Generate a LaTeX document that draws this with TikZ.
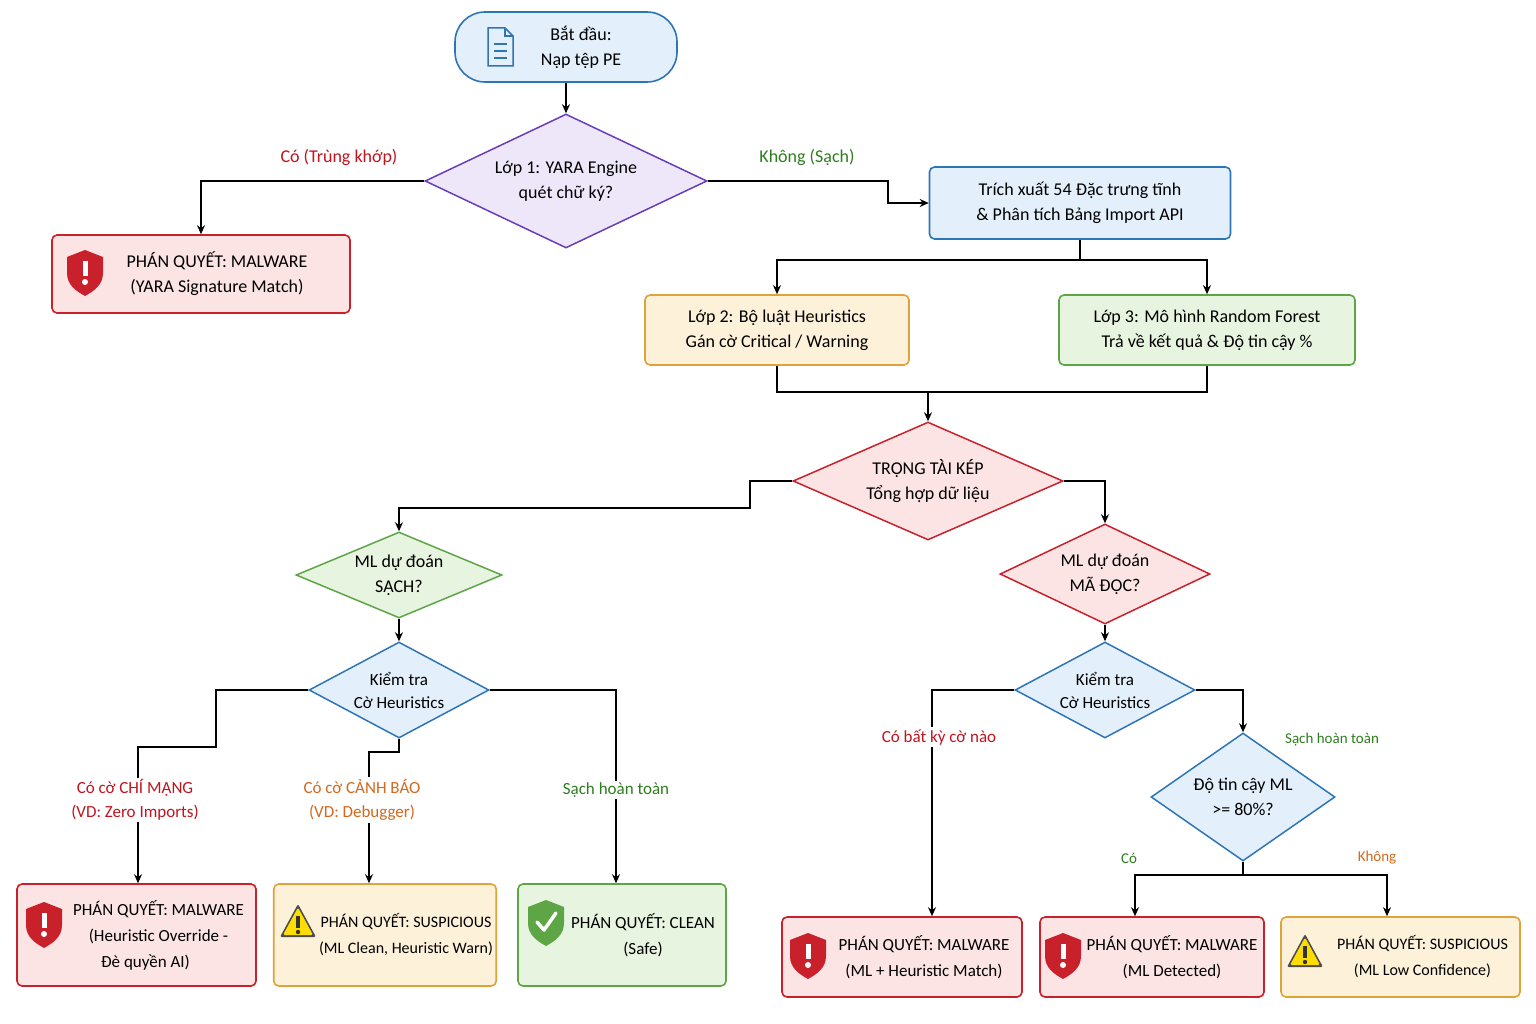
\documentclass[tikz,border=0pt]{standalone}
\usepackage{fontspec}
\setmainfont{Carlito}
\usetikzlibrary{shapes.geometric,arrows.meta}
\definecolor{bF}{HTML}{E3F0FC}\definecolor{bB}{HTML}{2E75B6}
\definecolor{rF}{HTML}{FCE4E4}\definecolor{rB}{HTML}{C9212B}
\definecolor{oF}{HTML}{FDF1DA}\definecolor{oB}{HTML}{E0A33A}
\definecolor{gF}{HTML}{E7F4E0}\definecolor{gB}{HTML}{5DA545}
\definecolor{pF}{HTML}{EEE7FA}\definecolor{pB}{HTML}{6A3DB8}
\definecolor{rT}{HTML}{C0141E}\definecolor{gT}{HTML}{2E7D1E}\definecolor{oT}{HTML}{D2691E}
\begin{document}
\begin{tikzpicture}[x=1pt,y=-1pt,
 box/.style={draw,line width=1.6pt,rounded corners=5pt,align=center,font=\fontsize{18}{25}\selectfont},
 dia/.style={diamond,draw,line width=1.5pt,align=center,inner sep=0pt,font=\fontsize{18}{25}\selectfont},
 sdia/.style={dia,font=\fontsize{17}{23}\selectfont},
 bl/.style={fill=bF,draw=bB},rd/.style={fill=rF,draw=rB},or/.style={fill=oF,draw=oB},gr/.style={fill=gF,draw=gB},
 ar/.style={line width=1.5pt,-{Stealth[length=9pt,width=8pt]}},ln/.style={line width=1.5pt},
 lab/.style={fill=white,align=center,inner sep=2pt,font=\fontsize{17}{24}\selectfont},
 slab/.style={align=center,font=\fontsize{15}{20}\selectfont},
 ft/.style={font=\fontsize{17}{26}\selectfont}]
\useasboundingbox (0,0) rectangle (1536,1024);
\newcommand\shield[3]{\begin{scope}[shift={(#1,#2)},yscale=-1]
 \fill[#3] (0,22) -- (18,15) -- (18,-1) .. controls (18,-13) and (9,-19) .. (0,-24) .. controls (-9,-19) and (-18,-13) .. (-18,-1) -- (-18,15) -- cycle;
 \end{scope}}
\newcommand\excl[2]{\fill[white] (#1-2.5,#2-11) rectangle (#1+2.5,#2+4); \fill[white] (#1,#2+10) circle (3);}
\newcommand\redshield[2]{\shield{#1}{#2}{rB}\excl{#1}{#2}}
\newcommand\warn[2]{\begin{scope}[shift={(#1,#2)}]
 \fill[black!70,rounded corners=2pt] (0,-19) -- (18,14) -- (-18,14) -- cycle;
 \fill[yellow!80!orange,rounded corners=1.5pt] (0,-15.5) -- (15,12) -- (-15,12) -- cycle;
 \fill[black!80] (-2,-7) rectangle (2,5); \fill[black!80] (0,9) circle (2.2);
 \end{scope}}
% nodes
\node[box,bl,rounded corners=30pt,minimum width=222pt,minimum height=70pt] (start) at (566,47) {\hspace*{30pt}Bắt đầu:\\\hspace*{30pt}Nạp tệp PE};
\begin{scope}[shift={(500,47)},bB,line width=1.5pt]
\draw[fill=bF] (-12,-19) -- (5,-19) -- (13,-11) -- (13,19) -- (-12,19) -- cycle;
\draw (5,-19) -- (5,-11) -- (13,-11);
\draw (-6,-3) -- (7,-3) (-6,4) -- (7,4) (-6,11) -- (7,11);
\end{scope}
\node[dia,fill=pF,draw=pB,shape aspect=2.1,minimum width=282pt,minimum height=134pt] (d1) at (566,181) {Lớp 1: YARA Engine\\quét chữ ký?};
\node[box,rd,minimum width=298pt,minimum height=78pt] (m1) at (201,274) {\hspace*{32pt}PHÁN QUYẾT: MALWARE\\\hspace*{32pt}(YARA Signature Match)};
\redshield{85}{272}
\node[box,bl,minimum width=301pt,minimum height=72pt] (ex) at (1080,203) {Trích xuất 54 Đặc trưng tĩnh\\\& Phân tích Bảng Import API};
\node[box,or,minimum width=264pt,minimum height=70pt] (h2) at (777,330) {Lớp 2: Bộ luật Heuristics\\Gán cờ Critical / Warning};
\node[box,gr,minimum width=296pt,minimum height=70pt] (rf) at (1207,330) {Lớp 3: Mô hình Random Forest\\Trả về kết quả \& Độ tin cậy \%};
\node[dia,rd,shape aspect=2.29,minimum width=270pt,minimum height=118pt] (j) at (928,481) {TRỌNG TÀI KÉP\\Tổng hợp dữ liệu};
\node[dia,gr,shape aspect=2.4,minimum width=206pt,minimum height=86pt] (mc) at (399,575) {ML dự đoán\\SẠCH?};
\node[sdia,bl,shape aspect=1.875,minimum width=180pt,minimum height=96pt] (hc1) at (399,690) {Kiểm tra\\Cờ Heuristics};
\node[dia,rd,shape aspect=2.1,minimum width=210pt,minimum height=100pt] (mm) at (1105,574) {ML dự đoán\\MÃ ĐỘC?};
\node[sdia,bl,shape aspect=1.875,minimum width=180pt,minimum height=96pt] (hc2) at (1105,690) {Kiểm tra\\Cờ Heuristics};
\node[dia,bl,shape aspect=1.44,minimum width=184pt,minimum height=128pt] (cf) at (1243,797) {Độ tin cậy ML\\>= 80\%?};
\node[box,rd,ft,minimum width=239pt,minimum height=102pt] (b1) at (136.5,935) {\hspace*{44pt}PHÁN QUYẾT: MALWARE\\\hspace*{44pt}(Heuristic Override -\\\hspace*{18pt}Đè quyền AI)};
\redshield{44}{924}
\node[box,or,ft,minimum width=222pt,minimum height=102pt,font=\fontsize{16}{26}\selectfont] (b2) at (385,935) {\hspace*{42pt}PHÁN QUYẾT: SUSPICIOUS\\\hspace*{42pt}(ML Clean, Heuristic Warn)};
\warn{298}{923}
\node[box,gr,ft,minimum width=208pt,minimum height=102pt] (b3) at (622,935) {\hspace*{42pt}PHÁN QUYẾT: CLEAN\\\hspace*{42pt}(Safe)};
\shield{546}{922}{gB}
\draw[white,line width=3.5pt,line cap=round,line join=round] (537,922) -- (544,930) -- (556,913);
\node[box,rd,ft,minimum width=240pt,minimum height=80pt] (b4) at (902,957) {\hspace*{44pt}PHÁN QUYẾT: MALWARE\\\hspace*{44pt}(ML + Heuristic Match)};
\redshield{808}{955}
\node[box,rd,ft,minimum width=224pt,minimum height=80pt] (b5) at (1152,957) {\hspace*{40pt}PHÁN QUYẾT: MALWARE\\\hspace*{40pt}(ML Detected)};
\redshield{1063}{955}
\node[box,or,ft,minimum width=239pt,minimum height=80pt,font=\fontsize{16}{26}\selectfont] (b6) at (1400.5,957) {\hspace*{44pt}PHÁN QUYẾT: SUSPICIOUS\\\hspace*{44pt}(ML Low Confidence)};
\warn{1305}{953}
% connectors
\draw[ar] (start) -- (d1);
\draw[ar] (d1.west) -| (m1.north);
\node[font=\fontsize{18}{22}\selectfont,text=rT] (la) at (339,157) {Có (Trùng khớp)};
\draw[ar] (d1.east) -- (888,181) |- (ex.west);
\node[font=\fontsize{18}{22}\selectfont,text=gT] (lb) at (807,157) {Không (Sạch)};
\coordinate (s1) at (1080,260);
\draw[ar] (ex.south) -- (s1) -| (h2.north);
\draw[ar] (s1) -| (rf.north);
\coordinate (m2) at (928,392);
\draw[ln] (h2.south) |- (m2);
\draw[ln] (rf.south) |- (m2);
\draw[ar] (m2) -- (j.north);
\draw[ar] (j.west) -- (750,481) -- (750,508) -| (mc.north);
\draw[ar] (j.east) -| (mm.north);
\draw[ar] (mc.south) -- (hc1.north);
\draw[ar] (mm.south) -- (hc2.north);
\coordinate (c1) at (138,747);
\draw[ar] (hc1.west) -- (216,690) -- (216,747) -- (c1) -- (c1 |- b1.north);
\node[lab,text=rT] (l1) at (135,800) {Có cờ CHÍ MẠNG\\(VD: Zero Imports)};
\coordinate (c2) at (369,752);
\draw[ar] (hc1.south) -- (399,752) -- (c2) -- (c2 |- b2.north);
\node[lab,text=oT] (l2) at (362,800) {Có cờ CẢNH BÁO\\(VD: Debugger)};
\coordinate (c3) at (616,690);
\draw[ar] (hc1.east) -- (c3) -- (c3 |- b3.north);
\node[lab,text=gT] (l3) at (616,790) {Sạch hoàn toàn};
\coordinate (c4) at (932,690);
\draw[ar] (hc2.west) -- (c4) -- (c4 |- b4.north);
\node[lab,text=rT] (l4) at (939,737) {Có bất kỳ cờ nào};
\draw[ar] (hc2.east) -| (cf.north);
\node[slab,text=gT] (l5) at (1332,740) {Sạch hoàn toàn};
\coordinate (s2) at (1243,875);
\coordinate (c5) at (1135,875);
\coordinate (c6) at (1387,875);
\draw[ln] (cf.south) -- (s2);
\draw[ar] (s2) -- (c5) -- (c5 |- b5.north);
\draw[ar] (s2) -- (c6) -- (c6 |- b6.north);
\node[slab,text=gT] (l6) at (1129,858) {Có};
\node[slab,text=oT] (l7) at (1377,858) {Không};
\end{tikzpicture}
\end{document}
